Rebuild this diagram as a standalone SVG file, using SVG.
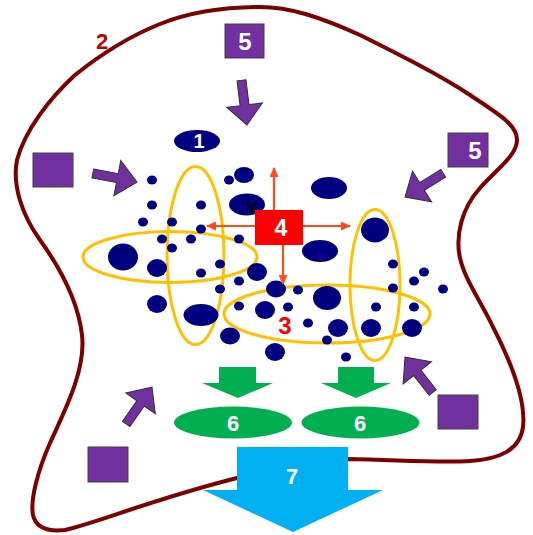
<svg xmlns="http://www.w3.org/2000/svg" xmlns:xlink="http://www.w3.org/1999/xlink" width="533" height="535" viewBox="0 0 533 535">
<style>
.dot{fill:#000080}
.ring{fill:none;stroke:#FFC000;stroke-width:3}
.sq{fill:#7030A0;stroke:#404040;stroke-width:1}
.parr{fill:#7030A0;stroke:#303030;stroke-width:1}
.grn{fill:#00B050}
.wt{fill:#FFFFFF;font-family:"Liberation Sans",Arial,sans-serif;font-weight:bold;text-anchor:middle}
.rarr{stroke:#FF4C1F;stroke-width:2.2;fill:none;marker-end:url(#rh)}
</style>
<defs>
<marker id="rh" markerUnits="userSpaceOnUse" markerWidth="10" markerHeight="9" refX="9" refY="4.5" orient="auto"><path d="M0,0 L10,4.5 L0,9 z" fill="#FF4C1F"/></marker>
<path id="pa" d="M0,-4.5 L25,-4.5 L25,-18 L45,0 L25,18 L25,4.5 L0,4.5 z"/>
</defs>
<rect width="533" height="535" fill="#FFFFFF"/>

<g id="membrane">
<path d="M237,478 L348,459 C400,460 440,463 470,461 C500,459 520,450 523,427 C526,400 510,360 493,327 C480,300 465,280 460,258 C455,235 462,208 480,188 C498,168 517,155 517,140 C517,125 500,115 470,95 C440,75 400,55 360,35 C320,17 290,7 260,7 C220,7 190,12 160,24 C130,36 100,55 75,75 C50,98 25,130 17,160 C12,185 22,215 40,240 C58,265 78,300 82,335 C86,370 65,410 50,443 C38,470 30,500 33,515 C36,528 47,532 65,530 C100,522 150,500 237,478 Z" fill="none" stroke="#7B0000" stroke-width="4"/>
<text x="102" y="49" font-family="Liberation Sans, Arial, sans-serif" font-weight="bold" font-size="22" fill="#C00000" text-anchor="middle">2</text>
</g>

<g id="rings">
<ellipse class="ring" cx="195.5" cy="255.5" rx="28.5" ry="89"/>
<ellipse class="ring" cx="170" cy="257" rx="87" ry="25.5"/>
<ellipse class="ring" cx="327" cy="314" rx="103" ry="29"/>
<ellipse class="ring" cx="375" cy="285" rx="25" ry="75.5"/>
</g>

<g id="dots">
<ellipse class="dot" cx="152" cy="180" rx="5" ry="4.5"/>
<ellipse class="dot" cx="152" cy="205" rx="5" ry="4.5"/>
<ellipse class="dot" cx="143" cy="222" rx="5" ry="4.5"/>
<ellipse class="dot" cx="172" cy="222" rx="5" ry="4.5"/>
<ellipse class="dot" cx="201" cy="205" rx="5" ry="4.5"/>
<ellipse class="dot" cx="201" cy="229" rx="5" ry="4.5"/>
<ellipse class="dot" cx="162" cy="239" rx="5" ry="4.5"/>
<ellipse class="dot" cx="191" cy="239" rx="5" ry="4.5"/>
<ellipse class="dot" cx="172" cy="248" rx="5" ry="4.5"/>
<ellipse class="dot" cx="201" cy="273" rx="5" ry="4.5"/>
<ellipse class="dot" cx="220" cy="264" rx="5" ry="4.5"/>
<ellipse class="dot" cx="220" cy="289" rx="5" ry="4.5"/>
<ellipse class="dot" cx="239" cy="239" rx="5" ry="4.5"/>
<ellipse class="dot" cx="239" cy="281" rx="5" ry="4.5"/>
<ellipse class="dot" cx="239" cy="306" rx="5" ry="4.5"/>
<ellipse class="dot" cx="229" cy="180" rx="5" ry="4.5"/>
<ellipse class="dot" cx="298" cy="290" rx="5" ry="4.5"/>
<ellipse class="dot" cx="288" cy="307" rx="5" ry="4.5"/>
<ellipse class="dot" cx="308" cy="323" rx="5" ry="4.5"/>
<ellipse class="dot" cx="327" cy="340" rx="5" ry="4.5"/>
<ellipse class="dot" cx="346" cy="357" rx="5" ry="4.5"/>
<ellipse class="dot" cx="376" cy="307" rx="5" ry="4.5"/>
<ellipse class="dot" cx="414" cy="307" rx="5" ry="4.5"/>
<ellipse class="dot" cx="393" cy="264" rx="5" ry="4.5"/>
<ellipse class="dot" cx="424" cy="272" rx="5" ry="4.5"/>
<ellipse class="dot" cx="414" cy="281" rx="5" ry="4.5"/>
<ellipse class="dot" cx="443" cy="289" rx="5" ry="4.5"/>
<ellipse class="dot" cx="393" cy="288" rx="5" ry="4.5"/>
<ellipse class="dot" cx="244" cy="175" rx="10" ry="8"/>
<ellipse class="dot" cx="157" cy="268" rx="10" ry="9"/>
<ellipse class="dot" cx="157" cy="304" rx="10" ry="9"/>
<ellipse class="dot" cx="230" cy="336" rx="10" ry="8.5"/>
<ellipse class="dot" cx="257" cy="272" rx="10" ry="9"/>
<ellipse class="dot" cx="276" cy="289" rx="10" ry="8.5"/>
<ellipse class="dot" cx="265" cy="310" rx="10" ry="9"/>
<ellipse class="dot" cx="338" cy="328" rx="10" ry="9"/>
<ellipse class="dot" cx="371" cy="328" rx="10" ry="9"/>
<ellipse class="dot" cx="412" cy="328" rx="10" ry="9"/>
<ellipse class="dot" cx="275" cy="352" rx="10" ry="9"/>
<ellipse class="dot" cx="123" cy="257" rx="15" ry="13.5"/>
<ellipse class="dot" cx="201" cy="315" rx="17.5" ry="11"/>
<ellipse class="dot" cx="247" cy="204.5" rx="18" ry="11"/>
<ellipse class="dot" cx="329" cy="188" rx="18" ry="11"/>
<ellipse class="dot" cx="320" cy="251" rx="18" ry="11"/>
<ellipse class="dot" cx="375" cy="230" rx="14" ry="12.5"/>
<ellipse class="dot" cx="327" cy="298" rx="14" ry="12"/>
<text x="252" y="213" font-family="Liberation Sans, Arial, sans-serif" font-weight="bold" font-size="17" fill="#000000" text-anchor="middle">V</text>
</g>

<g id="node1">
<ellipse class="dot" cx="197" cy="141" rx="23" ry="11"/>
<text class="wt" x="199" y="148" font-size="20">1</text>
</g>

<g id="connectors">
<line class="rarr" x1="274" y1="210" x2="274" y2="168"/>
<line class="rarr" x1="303" y1="226" x2="350" y2="226"/>
<line class="rarr" x1="283" y1="245" x2="283" y2="284"/>
<line class="rarr" x1="255" y1="226" x2="207" y2="226"/>
<use href="#pa" class="parr" transform="translate(241.5,80.3) rotate(83)"/>
<use href="#pa" class="parr" transform="translate(92.8,173.4) rotate(11)"/>
<use href="#pa" class="parr" transform="translate(443.2,173.2) rotate(148)"/>
<use href="#pa" class="parr" transform="translate(126.2,423.9) rotate(-55)"/>
<use href="#pa" class="parr" transform="translate(432.7,392.5) rotate(-128)"/>
<polygon class="grn" points="219,367 256,367 256,383 273,383 238,398 202,383 219,383"/>
<polygon class="grn" points="338,367 374,367 374,383 391,383 356,398 321,383 338,383"/>
</g>

<g id="node4">
<rect x="255" y="210" width="48" height="35" fill="#FF0000"/>
<text class="wt" x="281" y="236" font-size="23">4</text>
</g>

<g id="node3">
<text x="285" y="334" font-family="Liberation Sans, Arial, sans-serif" font-weight="bold" font-size="24" fill="#FF0000" text-anchor="middle">3</text>
</g>

<g id="node5-top">
<rect class="sq" x="225" y="24" width="39" height="34"/>
<text class="wt" x="245" y="50" font-size="24">5</text>
</g>
<g id="node5-right">
<rect class="sq" x="448" y="133" width="40" height="34"/>
<text class="wt" x="475" y="159" font-size="24">5</text>
</g>
<g id="sq-left">
<rect class="sq" x="33" y="153" width="40" height="34"/>
</g>
<g id="sq-bottom-left">
<rect class="sq" x="88" y="447" width="40" height="35"/>
</g>
<g id="sq-bottom-right">
<rect class="sq" x="438" y="395" width="40" height="34"/>
</g>

<g id="node6-left">
<ellipse class="grn" cx="233" cy="422.5" rx="59" ry="16"/>
<text class="wt" x="233" y="431" font-size="22">6</text>
</g>
<g id="node6-right">
<ellipse class="grn" cx="360.5" cy="422.5" rx="59" ry="16"/>
<text class="wt" x="360" y="431" font-size="22">6</text>
</g>

<g id="node7">
<polygon points="237,447 348,447 348,490 383,490 293,532 203,490 237,490" fill="#00B0F0"/>
<text class="wt" x="292" y="484" font-size="22">7</text>
</g>
</svg>
